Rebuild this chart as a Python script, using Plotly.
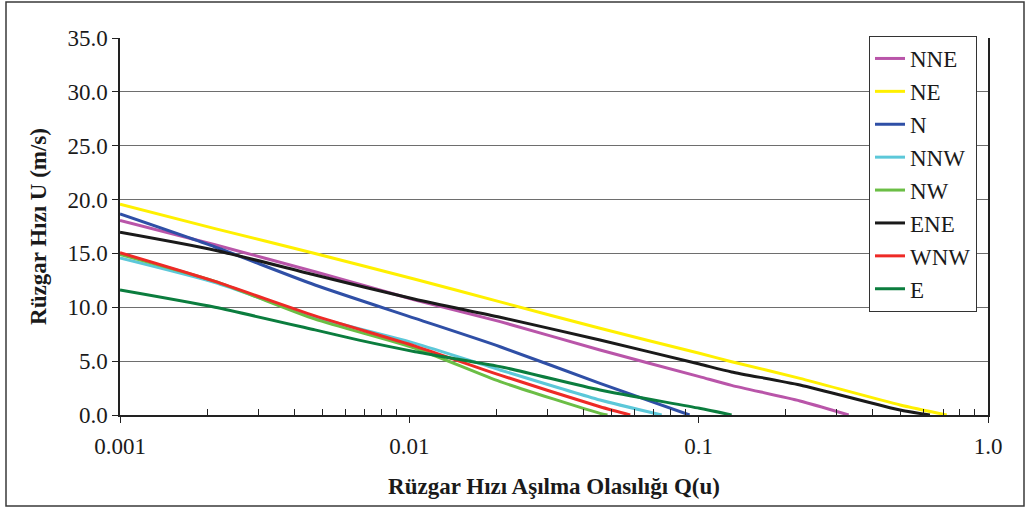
import plotly.graph_objects as go

# ---- data (Q = exceedance probability, U = wind speed m/s)
series_names = ["NNE", "NE", "N", "NNW", "NW", "ENE", "WNW", "E"]

q_NNE = [0.001, 0.00213, 0.00472, 0.01047, 0.0206, 0.0456, 0.1006, 0.13, 0.224, 0.33]
u_NNE = [18.07, 15.8, 13.3, 10.68, 8.67, 6.03, 3.56, 2.75, 1.3, 0.0]

q_NE = [0.001, 0.00213, 0.00472, 0.01047, 0.0206, 0.0456, 0.1006, 0.13, 0.224, 0.497, 0.72]
u_NE = [19.56, 17.3, 15.0, 12.6, 10.5, 8.05, 5.73, 4.95, 3.4, 0.93, 0.0]

q_N = [0.001, 0.00213, 0.00472, 0.01047, 0.0206, 0.0456, 0.093]
u_N = [18.66, 15.6, 12.07, 8.97, 6.34, 2.94, 0.0]

q_NNW = [0.001, 0.00213, 0.00472, 0.01047, 0.0206, 0.0456, 0.0745]
u_NNW = [14.58, 12.3, 9.1, 6.65, 4.18, 1.39, 0.0]

q_NW = [0.001, 0.00213, 0.00472, 0.01047, 0.0206, 0.0456, 0.0484]
u_NW = [14.9, 12.4, 8.9, 6.2, 3.1, 0.15, 0.0]

q_ENE = [0.001, 0.00213, 0.00472, 0.01047, 0.0206, 0.0456, 0.1006, 0.13, 0.224, 0.497, 0.63]
u_ENE = [16.96, 15.3, 13.0, 10.74, 9.07, 6.96, 4.73, 4.0, 2.79, 0.46, 0.0]

q_WNW = [0.001, 0.00213, 0.00472, 0.01047, 0.0206, 0.0456, 0.058]
u_WNW = [15.07, 12.4, 9.2, 6.4, 3.7, 0.77, 0.0]

q_E = [0.001, 0.00213, 0.00472, 0.0067, 0.01047, 0.0206, 0.0456, 0.1006, 0.13]
u_E = [11.6, 10.0, 7.9, 6.95, 5.88, 4.49, 2.32, 0.62, 0.0]

series_q = [q_NNE, q_NE, q_N, q_NNW, q_NW, q_ENE, q_WNW, q_E]
series_u = [u_NNE, u_NE, u_N, u_NNW, u_NW, u_ENE, u_WNW, u_E]
series_colors = ["#B955A9", "#FFF000", "#2F4FA6", "#5CC8D9", "#6BBE45",
                 "#1A1A1A", "#EE2A26", "#0B7D3E"]

x_tickvals = [0.001, 0.01, 0.1, 1.0]
x_ticktext = ["0.001", "0.01", "0.1", "1.0"]
x_minorvals = [m * d for d in (0.001, 0.01, 0.1) for m in range(2, 10)]
y_tickvals = [0, 5, 10, 15, 20, 25, 30, 35]

FONT = "Liberation Serif"
FS = 23
TXT = "#1a1a1a"

fig = go.Figure()
for i, (name, q, u, c) in enumerate(zip(series_names, series_q, series_u, series_colors)):
    fig.add_trace(go.Scatter(
        x=q, y=u, mode="lines", name=name, legendgroup=name,
        line=dict(color=c, width=3, shape="spline", smoothing=0.6),
    ))

W, H = 1031, 510
L, R, T, B = 120, 43, 38, 95
pw, ph = W - L - R, H - T - B

def px2paper_x(px):
    return (px - L) / pw

def px2paper_y(py):
    return (H - B - py) / ph

fig.update_layout(
    width=W, height=H,
    margin=dict(l=L, r=R, t=T, b=B),
    paper_bgcolor="white", plot_bgcolor="white",
    font=dict(family=FONT, size=FS, color=TXT),
    showlegend=True,
    legend=dict(
        x=px2paper_x(869), y=px2paper_y(36), xanchor="left", yanchor="top",
        bgcolor="white", bordercolor="#333333", borderwidth=1,
        font=dict(family=FONT, size=FS, color=TXT),
        tracegroupgap=0, traceorder="grouped", maxheight=450,
        entrywidth=70, entrywidthmode="pixels",
    ),
    xaxis=dict(
        type="log", range=[-3, 0],
        tickmode="array", tickvals=x_tickvals, ticktext=x_ticktext,
        ticks="outside", ticklen=6, tickcolor="#222", tickwidth=1,
        minor=dict(tickmode="array", tickvals=x_minorvals, ticks="inside",
                   ticklen=6, tickcolor="#222", tickwidth=1, showgrid=False),
        showline=True, linecolor="#222", linewidth=1.5,
        showgrid=False, zeroline=False,
        ticklabelstandoff=4,
        tickfont=dict(family=FONT, size=FS, color=TXT),
        title=dict(text="<b>Rüzgar Hızı Aşılma Olasılığı Q(u)</b>",
                   font=dict(family=FONT, size=FS, color=TXT), standoff=20),
    ),
    yaxis=dict(
        range=[0, 35], tickmode="array", tickvals=y_tickvals, tickformat=".1f",
        ticks="outside", ticklen=6, tickcolor="#222", tickwidth=1,
        showline=True, linecolor="#222", linewidth=1.5, mirror=True,
        showgrid=True, gridcolor="#6e6e6e", gridwidth=1,
        zeroline=False,
        tickfont=dict(family=FONT, size=FS, color=TXT),
        title=dict(text="<b>Rüzgar Hızı U (m/s)</b>",
                   font=dict(family=FONT, size=FS, color=TXT), standoff=14),
    ),
    shapes=[dict(
        type="rect", xref="paper", yref="paper",
        x0=px2paper_x(6), x1=px2paper_x(1024),
        y0=px2paper_y(506), y1=px2paper_y(2),
        line=dict(color="#3a3a3a", width=1.5), fillcolor="rgba(0,0,0,0)",
        layer="below",
    )],
)

fig.write_html("out.html")
